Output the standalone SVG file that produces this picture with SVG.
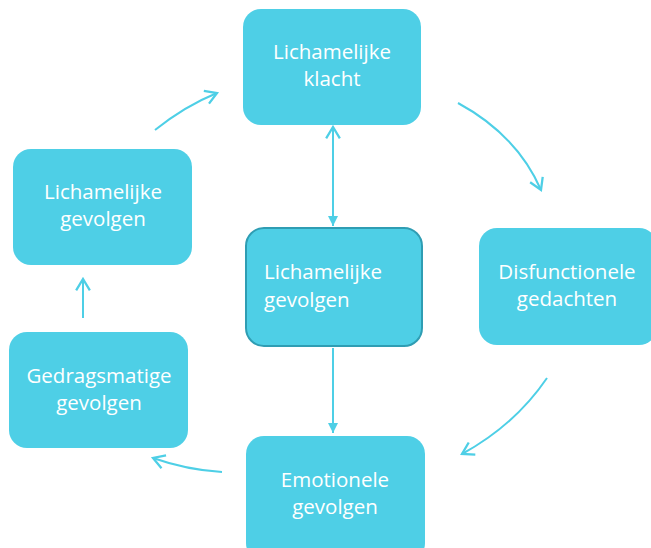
<svg xmlns="http://www.w3.org/2000/svg" width="651" height="548" viewBox="0 0 651 548">
<defs>
<style>
.box{fill:#4ecfe6;}
.center{fill:#4ecfe6;stroke:#2f9db3;stroke-width:2;}
.t{font-family:"Open Sans","Liberation Sans",sans-serif;font-size:20.5px;fill:#ffffff;text-anchor:middle;}
.tl{font-family:"Open Sans","Liberation Sans",sans-serif;font-size:20.5px;fill:#ffffff;}
.c{fill:none;stroke:#4ecfe6;stroke-width:2;}
</style>
<marker id="open" markerUnits="userSpaceOnUse" markerWidth="16" markerHeight="16" viewBox="0 0 12 14" refX="11" refY="7" orient="auto">
<path d="M1,1 L11,7 L1,13" fill="none" stroke="#4ecfe6" stroke-width="2"/>
</marker>
<marker id="fill" markerUnits="userSpaceOnUse" markerWidth="10" markerHeight="10" viewBox="0 0 10 10" refX="10" refY="5" orient="auto">
<path d="M0,0 L10,5 L0,10 z" fill="#4ecfe6"/>
</marker>
</defs>
<rect width="651" height="548" fill="#ffffff"/>
<g id="connectors">
<path class="c" d="M155,130 Q185,106 217,93" marker-end="url(#open)"/>
<path class="c" d="M458,103 Q517,135 541,190" marker-end="url(#open)"/>
<path class="c" d="M547,378 Q515,425 462,454" marker-end="url(#open)"/>
<path class="c" d="M222,472 Q187,470 153,458" marker-end="url(#open)"/>
<path class="c" d="M83,318 L83,279" marker-end="url(#open)"/>
<path class="c" d="M333,214 L333,127" marker-end="url(#open)"/>
<path class="c" d="M333,140 L333,226" marker-end="url(#fill)"/>
<path class="c" d="M333,348 L333,433" marker-end="url(#fill)"/>
</g>
<g id="node-klacht">
<rect class="box" x="243" y="9" width="178" height="116" rx="18"/>
<text class="t" x="332" y="59">Lichamelijke</text>
<text class="t" x="332" y="86">klacht</text>
</g>
<g id="node-disfunctionele">
<rect class="box" x="479" y="228" width="178" height="117" rx="18"/>
<text class="t" x="567" y="279">Disfunctionele</text>
<text class="t" x="567" y="306">gedachten</text>
</g>
<g id="node-emotionele">
<rect class="box" x="246" y="436" width="179" height="125" rx="18"/>
<text class="t" x="335" y="487">Emotionele</text>
<text class="t" x="335" y="514">gevolgen</text>
</g>
<g id="node-gedragsmatige">
<rect class="box" x="9" y="332" width="179" height="116" rx="18"/>
<text class="t" x="99" y="383">Gedragsmatige</text>
<text class="t" x="99" y="410">gevolgen</text>
</g>
<g id="node-lichamelijke-gevolgen-left">
<rect class="box" x="13" y="149" width="179" height="116" rx="18"/>
<text class="t" x="103" y="199">Lichamelijke</text>
<text class="t" x="103" y="226">gevolgen</text>
</g>
<g id="node-center">
<rect class="center" x="246" y="228" width="176" height="118" rx="18"/>
<text class="tl" x="264" y="279">Lichamelijke</text>
<text class="tl" x="264" y="307">gevolgen</text>
</g>
</svg>
